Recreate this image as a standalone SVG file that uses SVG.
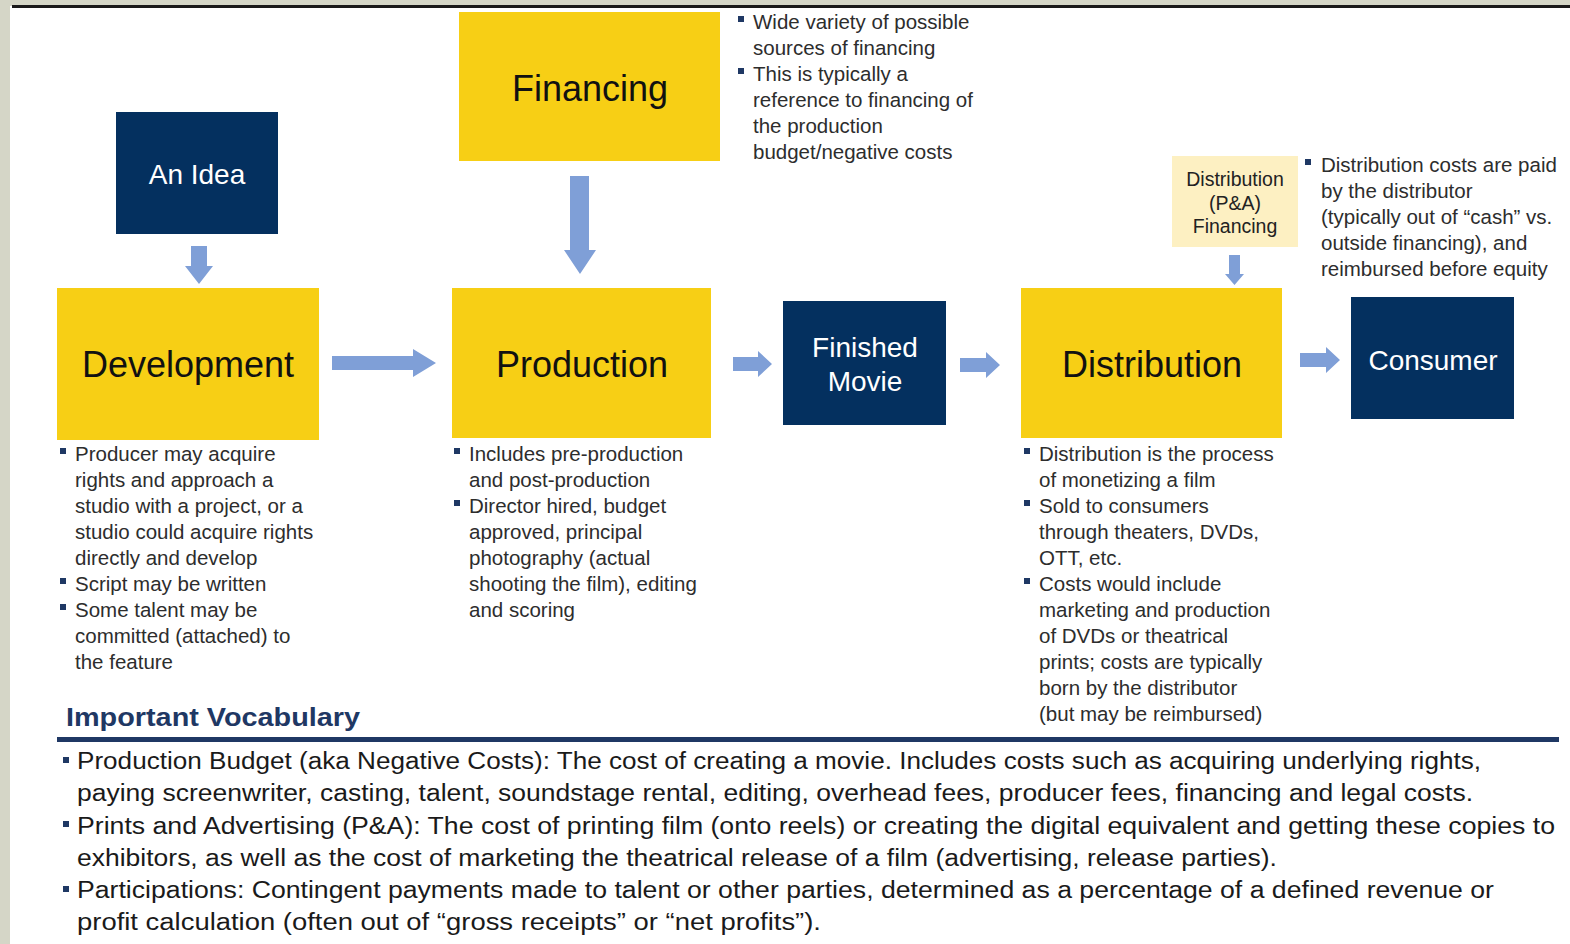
<svg xmlns="http://www.w3.org/2000/svg" width="1570" height="944" viewBox="0 0 1570 944">
<style>
.bg{fill:#d5d6c7}
.navy{fill:#04305f}
.yel{fill:#f7cf15}
.lyel{fill:#fdf0c2}
.arr{fill:#7f9fd7}
.big{font-family:"Liberation Sans",Arial,sans-serif;font-size:36px;fill:#111;text-anchor:middle}
.wt{font-family:"Liberation Sans",Arial,sans-serif;font-size:28px;fill:#fff;text-anchor:middle}
.sm{font-family:"Liberation Sans",Arial,sans-serif;font-size:19.5px;fill:#222;text-anchor:middle}
.bt{font-family:"Liberation Sans",Arial,sans-serif;font-size:20.5px;fill:#2d2d2d}
.voc{font-family:"Liberation Sans",Arial,sans-serif;font-size:23px;fill:#1a1a1a}
.hd{font-family:"Liberation Sans",Arial,sans-serif;font-size:26px;font-weight:bold;fill:#1f3864}
.bl{fill:#1f3864}
</style>
<defs>
<rect id="b" width="6" height="6" class="bl"/>
</defs>
<rect x="0" y="0" width="1570" height="944" fill="#ffffff"/>
<rect class="bg" x="0" y="0" width="1570" height="6"/>
<rect class="bg" x="0" y="0" width="10" height="944"/>
<rect x="12" y="5" width="1558" height="3" fill="#1a1a1a"/>

<g id="connectors">
<path class="arr" d="M191,246 H207 V266 H213 L199,284 L185,266 H191 Z"/>
<path class="arr" d="M332,356 H413 V349 L436,363 L413,377 V370 H332 Z"/>
<path class="arr" d="M570,176 H589 V250 H596 L580,274 L564,250 H570 Z"/>
<path class="arr" d="M733,357 H758 V351 L772,364 L758,377 V371 H733 Z"/>
<path class="arr" d="M960,358 H986 V352 L1000,365 L986,378 V372 H960 Z"/>
<path class="arr" d="M1229,255 H1240 V274 H1244 L1234.5,285 L1225,274 H1229 Z"/>
<path class="arr" d="M1300,353 H1326 V347 L1340,360 L1326,373 V367 H1300 Z"/>
</g>

<g id="idea">
<rect class="navy" x="116" y="112" width="162" height="122"/>
<text class="wt" x="197" y="184">An Idea</text>
</g>

<g id="financing">
<rect class="yel" x="459" y="12" width="261" height="149"/>
<text class="big" x="590" y="101">Financing</text>
</g>

<g id="development">
<rect class="yel" x="57" y="288" width="262" height="152"/>
<text class="big" x="188" y="377">Development</text>
</g>

<g id="production">
<rect class="yel" x="452" y="288" width="259" height="150"/>
<text class="big" x="582" y="377">Production</text>
</g>

<g id="finished">
<rect class="navy" x="783" y="301" width="163" height="124"/>
<text class="wt" x="865" y="357">Finished</text>
<text class="wt" x="865" y="391">Movie</text>
</g>

<g id="distribution">
<rect class="yel" x="1021" y="288" width="261" height="150"/>
<text class="big" x="1152" y="377">Distribution</text>
</g>

<g id="dist-financing">
<rect class="lyel" x="1172" y="156" width="126" height="91"/>
<text class="sm" x="1235" y="186">Distribution</text>
<text class="sm" x="1235" y="210">(P&amp;A)</text>
<text class="sm" x="1235" y="233">Financing</text>
</g>

<g id="consumer">
<rect class="navy" x="1351" y="297" width="163" height="122"/>
<text class="wt" x="1433" y="370">Consumer</text>
</g>

<g id="financing-notes">
<use href="#b" x="738" y="16"/>
<use href="#b" x="738" y="68"/>
<text class="bt" x="753" y="29">Wide variety of possible</text>
<text class="bt" x="753" y="55">sources of financing</text>
<text class="bt" x="753" y="81">This is typically a</text>
<text class="bt" x="753" y="107">reference to financing of</text>
<text class="bt" x="753" y="133">the production</text>
<text class="bt" x="753" y="159">budget/negative costs</text>
</g>

<g id="dist-fin-notes">
<use href="#b" x="1305" y="159"/>
<text class="bt" x="1321" y="172">Distribution costs are paid</text>
<text class="bt" x="1321" y="198">by the distributor</text>
<text class="bt" x="1321" y="224">(typically out of “cash” vs.</text>
<text class="bt" x="1321" y="250">outside financing), and</text>
<text class="bt" x="1321" y="276">reimbursed before equity</text>
</g>

<g id="development-notes">
<use href="#b" x="60" y="448"/>
<use href="#b" x="60" y="578"/>
<use href="#b" x="60" y="604"/>
<text class="bt" x="75" y="461">Producer may acquire</text>
<text class="bt" x="75" y="487">rights and approach a</text>
<text class="bt" x="75" y="513">studio with a project, or a</text>
<text class="bt" x="75" y="539">studio could acquire rights</text>
<text class="bt" x="75" y="565">directly and develop</text>
<text class="bt" x="75" y="591">Script may be written</text>
<text class="bt" x="75" y="617">Some talent may be</text>
<text class="bt" x="75" y="643">committed (attached) to</text>
<text class="bt" x="75" y="669">the feature</text>
</g>

<g id="production-notes">
<use href="#b" x="454" y="448"/>
<use href="#b" x="454" y="500"/>
<text class="bt" x="469" y="461">Includes pre-production</text>
<text class="bt" x="469" y="487">and post-production</text>
<text class="bt" x="469" y="513">Director hired, budget</text>
<text class="bt" x="469" y="539">approved, principal</text>
<text class="bt" x="469" y="565">photography (actual</text>
<text class="bt" x="469" y="591">shooting the film), editing</text>
<text class="bt" x="469" y="617">and scoring</text>
</g>

<g id="distribution-notes">
<use href="#b" x="1024" y="448"/>
<use href="#b" x="1024" y="500"/>
<use href="#b" x="1024" y="578"/>
<text class="bt" x="1039" y="461">Distribution is the process</text>
<text class="bt" x="1039" y="487">of monetizing a film</text>
<text class="bt" x="1039" y="513">Sold to consumers</text>
<text class="bt" x="1039" y="539">through theaters, DVDs,</text>
<text class="bt" x="1039" y="565">OTT, etc.</text>
<text class="bt" x="1039" y="591">Costs would include</text>
<text class="bt" x="1039" y="617">marketing and production</text>
<text class="bt" x="1039" y="643">of DVDs or theatrical</text>
<text class="bt" x="1039" y="669">prints; costs are typically</text>
<text class="bt" x="1039" y="695">born by the distributor</text>
<text class="bt" x="1039" y="721">(but may be reimbursed)</text>
</g>

<g id="vocabulary">
<text class="hd" x="66" y="726" textLength="294" lengthAdjust="spacingAndGlyphs">Important Vocabulary</text>
<rect class="bl" x="57" y="737" width="1502" height="5"/>
<use href="#b" x="63" y="757"/>
<use href="#b" x="63" y="821"/>
<use href="#b" x="63" y="886"/>
<text class="voc" x="77" y="769" textLength="1404" lengthAdjust="spacingAndGlyphs">Production Budget (aka Negative Costs): The cost of creating a movie.  Includes costs such as acquiring underlying rights,</text>
<text class="voc" x="77" y="801" textLength="1396" lengthAdjust="spacingAndGlyphs">paying screenwriter,  casting, talent, soundstage rental, editing, overhead fees, producer fees, financing and legal costs.</text>
<text class="voc" x="77" y="834" textLength="1478" lengthAdjust="spacingAndGlyphs">Prints and Advertising (P&amp;A): The cost of printing film (onto reels) or creating the digital equivalent and getting these copies to</text>
<text class="voc" x="77" y="866" textLength="1200" lengthAdjust="spacingAndGlyphs">exhibitors, as well as the cost of marketing the theatrical release of a film (advertising, release parties).</text>
<text class="voc" x="77" y="898" textLength="1417" lengthAdjust="spacingAndGlyphs">Participations: Contingent payments made to talent or other parties, determined as a percentage of a defined revenue or</text>
<text class="voc" x="77" y="930" textLength="744" lengthAdjust="spacingAndGlyphs">profit calculation (often out of “gross receipts” or “net profits”).</text>
</g>
</svg>
